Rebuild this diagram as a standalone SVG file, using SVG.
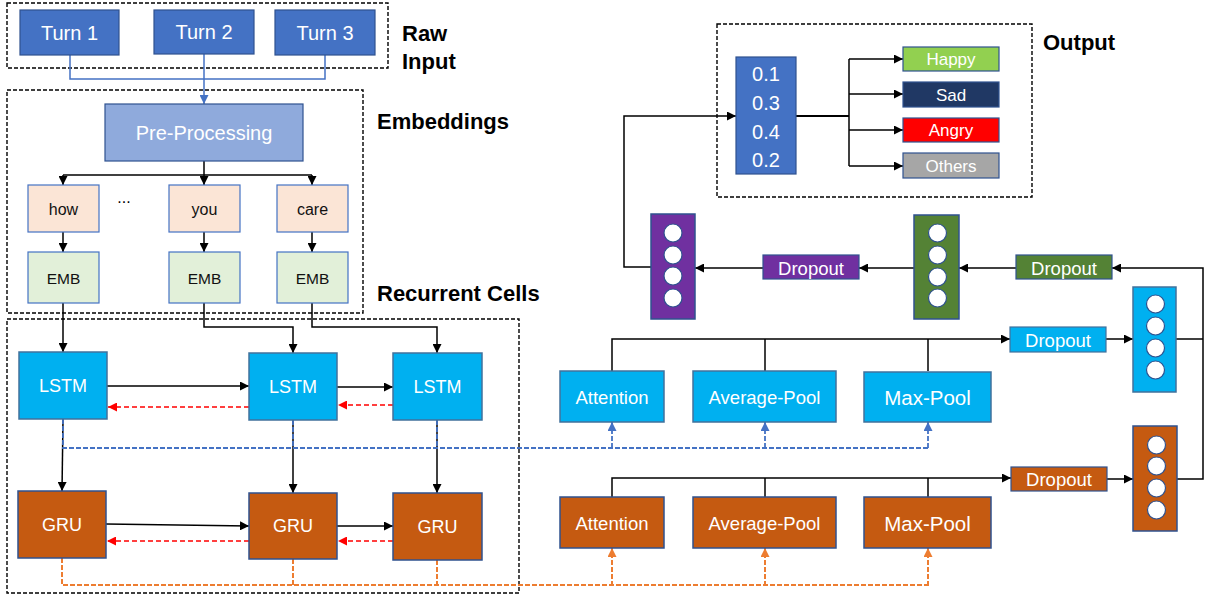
<svg xmlns="http://www.w3.org/2000/svg" width="1207" height="596" viewBox="0 0 1207 596">
<style>
text{font-family:"Liberation Sans",Arial,sans-serif;}
.t{text-anchor:middle;dominant-baseline:central;fill:#fff;}
.k{text-anchor:middle;dominant-baseline:central;fill:#111;}
.h{font-weight:bold;font-size:22px;fill:#000;}
.box{fill:none;stroke:#000;stroke-width:1.4;stroke-dasharray:4 2;}
.c{fill:none;stroke:#000;stroke-width:1.5;}
.cb{fill:none;stroke:#4472c4;stroke-width:1.5;}
.db{fill:none;stroke:#4472c4;stroke-width:1.8;stroke-dasharray:5 2;}
.do{fill:none;stroke:#ed7d31;stroke-width:2;stroke-dasharray:5 2;}
.dr{fill:none;stroke:#ff0000;stroke-width:1.5;stroke-dasharray:5 3;}
.turn{fill:#4472c4;stroke:#2f528f;stroke-width:1.2;}
.pre{fill:#8faadc;stroke:#2f528f;stroke-width:1.2;}
.word{fill:#fbe5d6;stroke:#4472c4;stroke-width:1.2;}
.emb{fill:#e2f0d9;stroke:#4472c4;stroke-width:1.2;}
.lstm{fill:#00b0f0;stroke:#41719c;stroke-width:1.5;}
.gru{fill:#c55a11;stroke:#2f528f;stroke-width:1.5;}
.dot{fill:#fff;stroke:#2f528f;stroke-width:1.2;}
</style>
<defs>
<marker id="ak" viewBox="0 0 10 10" refX="10" refY="5" markerWidth="9" markerHeight="9" markerUnits="userSpaceOnUse" orient="auto"><path d="M0,0L10,5L0,10z" fill="#000"/></marker>
<marker id="ab" viewBox="0 0 10 10" refX="10" refY="5" markerWidth="9" markerHeight="9" markerUnits="userSpaceOnUse" orient="auto"><path d="M0,0L10,5L0,10z" fill="#4472c4"/></marker>
<marker id="ao" viewBox="0 0 10 10" refX="10" refY="5" markerWidth="9" markerHeight="9" markerUnits="userSpaceOnUse" orient="auto"><path d="M0,0L10,5L0,10z" fill="#ed7d31"/></marker>
<marker id="ar" viewBox="0 0 10 10" refX="10" refY="5" markerWidth="9" markerHeight="9" markerUnits="userSpaceOnUse" orient="auto"><path d="M0,0L10,5L0,10z" fill="#ff0000"/></marker>
</defs>

<g id="groups">
<rect class="box" x="7" y="3" width="381" height="65"/>
<rect class="box" x="7" y="90" width="356" height="223"/>
<rect class="box" x="7" y="319" width="512" height="274"/>
<rect class="box" x="717" y="24" width="315" height="173"/>
<text class="h" x="402" y="41">Raw</text>
<text class="h" x="402" y="69">Input</text>
<text class="h" x="377" y="129">Embeddings</text>
<text class="h" x="377" y="301">Recurrent Cells</text>
<text class="h" x="1043" y="50">Output</text>
</g>

<g id="connectors">
<path class="cb" d="M70,55V79H325V55"/>
<path class="cb" d="M204,54V104" marker-end="url(#ab)"/>
<path class="c" d="M204,161V175"/>
<path class="c" d="M63,175H312"/>
<path class="c" d="M63,175V185" marker-end="url(#ak)"/>
<path class="c" d="M204,175V185" marker-end="url(#ak)"/>
<path class="c" d="M312,175V185" marker-end="url(#ak)"/>
<path class="c" d="M63,232V252" marker-end="url(#ak)"/>
<path class="c" d="M204,232V252" marker-end="url(#ak)"/>
<path class="c" d="M312,232V252" marker-end="url(#ak)"/>
<path class="c" d="M63,303V352" marker-end="url(#ak)"/>
<path class="c" d="M204,303V327H293V353" marker-end="url(#ak)"/>
<path class="c" d="M312,303V327H437V353" marker-end="url(#ak)"/>
<path class="c" d="M107,386H249" marker-end="url(#ak)"/>
<path class="c" d="M337,387H393" marker-end="url(#ak)"/>
<path class="dr" d="M249,407H108" marker-end="url(#ar)"/>
<path class="dr" d="M393,405H338" marker-end="url(#ar)"/>
<path class="c" d="M63,419L62,491" marker-end="url(#ak)"/>
<path class="c" d="M293,420V493" marker-end="url(#ak)"/>
<path class="c" d="M437,420V493" marker-end="url(#ak)"/>
<path class="c" d="M106,524L249,526" marker-end="url(#ak)"/>
<path class="c" d="M337,526H393" marker-end="url(#ak)"/>
<path class="dr" d="M249,541H107" marker-end="url(#ar)"/>
<path class="dr" d="M393,541H338" marker-end="url(#ar)"/>
<path class="db" d="M63,419V448H928"/>
<path class="db" d="M293,420V448"/>
<path class="db" d="M437,420V448"/>
<path class="db" d="M612,448V422" marker-end="url(#ab)"/>
<path class="db" d="M765,448V422" marker-end="url(#ab)"/>
<path class="db" d="M928,448V422" marker-end="url(#ab)"/>
<path class="do" d="M62,558V585H928"/>
<path class="do" d="M293,559V585"/>
<path class="do" d="M437,560V585"/>
<path class="do" d="M612,586V548" marker-end="url(#ao)"/>
<path class="do" d="M765,586V548" marker-end="url(#ao)"/>
<path class="do" d="M928,586V548" marker-end="url(#ao)"/>
<path class="c" d="M612,371V339H1010" marker-end="url(#ak)"/>
<path class="c" d="M765,371V339"/>
<path class="c" d="M928,371V339"/>
<path class="c" d="M612,497V478H1011" marker-end="url(#ak)"/>
<path class="c" d="M765,497V478"/>
<path class="c" d="M928,497V478"/>
<path class="c" d="M1106,339H1133" marker-end="url(#ak)"/>
<path class="c" d="M1107,479H1133" marker-end="url(#ak)"/>
<path class="c" d="M1176,339H1203"/>
<path class="c" d="M1177,479H1203V268H1112" marker-end="url(#ak)"/>
<path class="c" d="M1016,268H959" marker-end="url(#ak)"/>
<path class="c" d="M914,268H859" marker-end="url(#ak)"/>
<path class="c" d="M763,268H695" marker-end="url(#ak)"/>
<path class="c" d="M651,267H624V116H736" marker-end="url(#ak)"/>
<path class="c" d="M796,116H849" style="stroke-width:2"/>
<path class="c" d="M849,59V166"/>
<path class="c" d="M849,59H903" marker-end="url(#ak)"/>
<path class="c" d="M849,94H903" marker-end="url(#ak)"/>
<path class="c" d="M849,130H903" marker-end="url(#ak)"/>
<path class="c" d="M849,166H903" marker-end="url(#ak)"/>
</g>

<g id="turn1"><rect class="turn" x="20" y="10" width="99" height="45"/><text class="t" x="69.5" y="33" font-size="20">Turn 1</text></g>
<g id="turn2"><rect class="turn" x="154" y="10" width="100" height="44"/><text class="t" x="204" y="32" font-size="20">Turn 2</text></g>
<g id="turn3"><rect class="turn" x="275" y="10" width="100" height="45"/><text class="t" x="325" y="33" font-size="20">Turn 3</text></g>
<g id="preprocessing"><rect class="pre" x="105" y="104" width="198" height="57"/><text class="t" x="204" y="133" font-size="20">Pre-Processing</text></g>

<g id="word-how"><rect class="word" x="28" y="185" width="71" height="47"/><text class="k" x="63.5" y="209" font-size="16">how</text></g>
<g id="ellipsis"><text x="124" y="203" font-size="16" fill="#000" text-anchor="middle">...</text></g>
<g id="word-you"><rect class="word" x="169" y="185" width="71" height="47"/><text class="k" x="204.5" y="209" font-size="16">you</text></g>
<g id="word-care"><rect class="word" x="277" y="185" width="71" height="47"/><text class="k" x="312.5" y="209" font-size="16">care</text></g>
<g id="emb1"><rect class="emb" x="28" y="252" width="71" height="51"/><text class="k" x="63.5" y="278" font-size="15.5">EMB</text></g>
<g id="emb2"><rect class="emb" x="169" y="252" width="71" height="51"/><text class="k" x="204.5" y="278" font-size="15.5">EMB</text></g>
<g id="emb3"><rect class="emb" x="277" y="252" width="71" height="51"/><text class="k" x="312.5" y="278" font-size="15.5">EMB</text></g>

<g id="lstm1"><rect class="lstm" x="19" y="352" width="88" height="67"/><text class="t" x="63" y="386" font-size="18">LSTM</text></g>
<g id="lstm2"><rect class="lstm" x="249" y="353" width="88" height="67"/><text class="t" x="293" y="387" font-size="18">LSTM</text></g>
<g id="lstm3"><rect class="lstm" x="393" y="353" width="89" height="67"/><text class="t" x="437.5" y="387" font-size="18">LSTM</text></g>
<g id="gru1"><rect class="gru" x="18" y="491" width="88" height="67"/><text class="t" x="62" y="525" font-size="18">GRU</text></g>
<g id="gru2"><rect class="gru" x="249" y="493" width="88" height="66"/><text class="t" x="293" y="526" font-size="18">GRU</text></g>
<g id="gru3"><rect class="gru" x="393" y="493" width="89" height="67"/><text class="t" x="437.5" y="527" font-size="18">GRU</text></g>

<g id="att-lstm"><rect class="lstm" x="560" y="371" width="104" height="51"/><text class="t" x="612" y="397" font-size="18.5">Attention</text></g>
<g id="avg-lstm"><rect class="lstm" x="693" y="371" width="143" height="51"/><text class="t" x="764.5" y="397" font-size="18.5">Average-Pool</text></g>
<g id="max-lstm"><rect class="lstm" x="864" y="372" width="127" height="50"/><text class="t" x="927.5" y="397" font-size="20.5">Max-Pool</text></g>
<g id="att-gru"><rect class="gru" x="560" y="497" width="104" height="51"/><text class="t" x="612" y="523" font-size="18.5">Attention</text></g>
<g id="avg-gru"><rect class="gru" x="693" y="497" width="143" height="51"/><text class="t" x="764.5" y="523" font-size="18.5">Average-Pool</text></g>
<g id="max-gru"><rect class="gru" x="864" y="497" width="127" height="51"/><text class="t" x="927.5" y="523" font-size="20.5">Max-Pool</text></g>

<g id="dropout-lstm"><rect x="1010" y="327" width="96" height="25" fill="#00b0f0" stroke="#41719c" stroke-width="1.2"/><text class="t" x="1058" y="340" font-size="18.5">Dropout</text></g>
<g id="dropout-gru"><rect x="1011" y="467" width="96" height="24" fill="#c55a11" stroke="#2f528f" stroke-width="1.2"/><text class="t" x="1059" y="479.5" font-size="18.5">Dropout</text></g>
<g id="dropout-green"><rect x="1016" y="255" width="96" height="24" fill="#548235" stroke="#2f528f" stroke-width="1.2"/><text class="t" x="1064" y="268" font-size="18.5">Dropout</text></g>
<g id="dropout-purple"><rect x="763" y="255" width="96" height="24" fill="#7030a0" stroke="#2f528f" stroke-width="1.2"/><text class="t" x="811" y="268" font-size="18.5">Dropout</text></g>

<g id="vec-lstm"><rect x="1133" y="287" width="43" height="105" fill="#00b0f0" stroke="#41719c" stroke-width="1.5"/><circle class="dot" cx="1155.5" cy="304" r="9"/><circle class="dot" cx="1155.5" cy="326" r="9"/><circle class="dot" cx="1155.5" cy="348" r="9"/><circle class="dot" cx="1155.5" cy="370" r="9"/></g>
<g id="vec-gru"><rect x="1133" y="426" width="44" height="105" fill="#c55a11" stroke="#2f528f" stroke-width="1.5"/><circle class="dot" cx="1156.5" cy="445" r="9"/><circle class="dot" cx="1156.5" cy="466" r="9"/><circle class="dot" cx="1156.5" cy="488" r="9"/><circle class="dot" cx="1156.5" cy="510" r="9"/></g>
<g id="vec-green"><rect x="914" y="215" width="45" height="104" fill="#548235" stroke="#2f528f" stroke-width="1.5"/><circle class="dot" cx="937.5" cy="233" r="9"/><circle class="dot" cx="937.5" cy="255" r="9"/><circle class="dot" cx="937.5" cy="277" r="9"/><circle class="dot" cx="937.5" cy="298" r="9"/></g>
<g id="vec-purple"><rect x="651" y="214" width="44" height="105" fill="#7030a0" stroke="#2f528f" stroke-width="1.5"/><circle class="dot" cx="673" cy="233" r="9"/><circle class="dot" cx="673" cy="255" r="9"/><circle class="dot" cx="673" cy="276" r="9"/><circle class="dot" cx="673" cy="298" r="9"/></g>

<g id="probs"><rect x="736" y="57" width="60" height="117" fill="#4472c4" stroke="#2f528f" stroke-width="1.2"/>
<text class="t" x="766" y="74" font-size="20">0.1</text><text class="t" x="766" y="103" font-size="20">0.3</text><text class="t" x="766" y="132" font-size="20">0.4</text><text class="t" x="766" y="160" font-size="20">0.2</text></g>
<g id="happy"><rect x="903" y="47" width="96" height="24" fill="#92d050" stroke="#2f528f" stroke-width="1.2"/><text class="t" x="951" y="59.5" font-size="17">Happy</text></g>
<g id="sad"><rect x="903" y="82" width="96" height="25" fill="#203864" stroke="#2f528f" stroke-width="1.2"/><text class="t" x="951" y="95" font-size="17">Sad</text></g>
<g id="angry"><rect x="903" y="118" width="96" height="24" fill="#ff0000" stroke="#2f528f" stroke-width="1.2"/><text class="t" x="951" y="130.5" font-size="17">Angry</text></g>
<g id="others"><rect x="903" y="153" width="96" height="25" fill="#a6a6a6" stroke="#2f528f" stroke-width="1.2"/><text class="t" x="951" y="166" font-size="17">Others</text></g>
</svg>
